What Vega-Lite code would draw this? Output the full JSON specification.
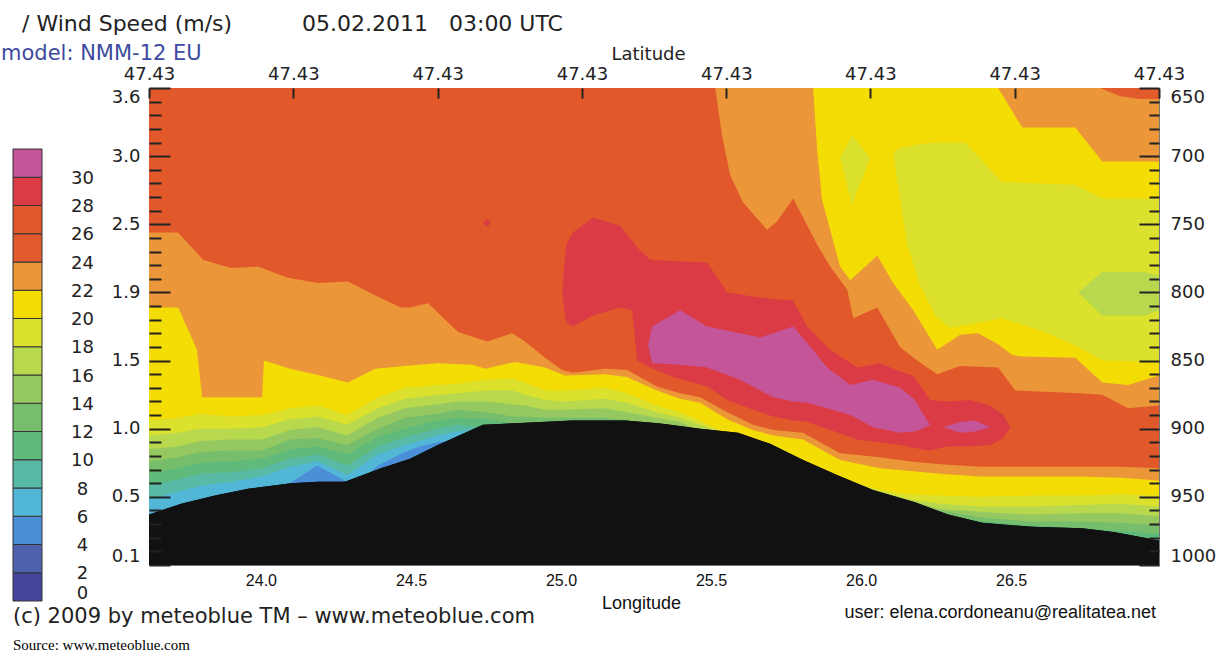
{
  "$schema": "https://vega.github.io/schema/vega-lite/v6.json",
  "background": "white",
  "padding": {"left": 1, "top": 12, "right": 0, "bottom": 0},
  "autosize": {"type": "pad"},
  "title": {
    "text": "\u200b\u00a0\u00a0\u00a0/ Wind Speed (m/s)\u00a0\u00a0\u00a0\u00a0\u00a0\u00a0\u00a0\u00a0\u00a0\u00a005.02.2011\u00a0\u00a0\u00a003:00 UTC",
    "subtitle": "model: NMM-12 EU",
    "anchor": "start",
    "frame": "group",
    "dx": -12,
    "font": "DejaVu Sans",
    "fontSize": 22,
    "fontWeight": "normal",
    "color": "#222222",
    "subtitleFont": "DejaVu Sans",
    "subtitleFontSize": 21,
    "subtitleColor": "#3d4aa0",
    "subtitlePadding": 7,
    "offset": -20
  },
  "config": {
    "view": {"stroke": "#777777", "strokeWidth": 1},
    "axis": {"grid": false, "labelOverlap": false},
    "font": "DejaVu Sans"
  },
  "datasets": {
    "bar": [
      {"lo": 0, "hi": 2}, {"lo": 2, "hi": 4}, {"lo": 4, "hi": 6}, {"lo": 6, "hi": 8},
      {"lo": 8, "hi": 10}, {"lo": 10, "hi": 12}, {"lo": 12, "hi": 14}, {"lo": 14, "hi": 16},
      {"lo": 16, "hi": 18}, {"lo": 18, "hi": 20}, {"lo": 20, "hi": 22}, {"lo": 22, "hi": 24},
      {"lo": 24, "hi": 26}, {"lo": 26, "hi": 28}, {"lo": 28, "hi": 30}, {"lo": 30, "hi": 32}
    ],
    "upper": [
      {"r":"a","x":23.627,"t":650,"b":1000,"v":26},{"r":"a","x":26.993,"t":650,"b":1000,"v":26},
      {"r":"b","x":25.514,"t":650,"b":650,"v":22},{"r":"b","x":25.537,"t":650,"b":685,"v":22},
      {"r":"b","x":25.564,"t":650,"b":714,"v":22},{"r":"b","x":25.607,"t":650,"b":734,"v":22},
      {"r":"b","x":25.687,"t":650,"b":754,"v":22},{"r":"b","x":25.720,"t":650,"b":748,"v":22},
      {"r":"b","x":25.774,"t":650,"b":731,"v":22},{"r":"b","x":25.814,"t":650,"b":748,"v":22},
      {"r":"b","x":25.854,"t":650,"b":765,"v":22},{"r":"b","x":25.897,"t":650,"b":781,"v":22},
      {"r":"b","x":25.954,"t":650,"b":798,"v":22},{"r":"b","x":25.974,"t":650,"b":819,"v":22},
      {"r":"b","x":26.054,"t":650,"b":811,"v":22},{"r":"b","x":26.130,"t":650,"b":840,"v":22},
      {"r":"b","x":26.187,"t":650,"b":850,"v":22},{"r":"b","x":26.254,"t":650,"b":860,"v":22},
      {"r":"b","x":26.330,"t":650,"b":854,"v":22},{"r":"b","x":26.457,"t":650,"b":855,"v":22},
      {"r":"b","x":26.514,"t":650,"b":872,"v":22},{"r":"b","x":26.730,"t":650,"b":874,"v":22},
      {"r":"b","x":26.804,"t":650,"b":875,"v":22},{"r":"b","x":26.890,"t":650,"b":885,"v":22},
      {"r":"b","x":26.993,"t":650,"b":883,"v":22},
      {"r":"c","x":25.840,"t":650,"b":650,"v":20},{"r":"c","x":25.854,"t":650,"b":696,"v":20},
      {"r":"c","x":25.870,"t":650,"b":732,"v":20},{"r":"c","x":25.930,"t":650,"b":781,"v":20},
      {"r":"c","x":25.964,"t":650,"b":791,"v":20},{"r":"c","x":26.054,"t":650,"b":773,"v":20},
      {"r":"c","x":26.107,"t":650,"b":793,"v":20},{"r":"c","x":26.174,"t":650,"b":813,"v":20},
      {"r":"c","x":26.254,"t":650,"b":842,"v":20},{"r":"c","x":26.330,"t":650,"b":831,"v":20},
      {"r":"c","x":26.390,"t":650,"b":830,"v":20},{"r":"c","x":26.457,"t":650,"b":838,"v":20},
      {"r":"c","x":26.504,"t":667,"b":846,"v":20},{"r":"c","x":26.537,"t":679,"b":847,"v":20},
      {"r":"c","x":26.714,"t":679,"b":848,"v":20},{"r":"c","x":26.804,"t":704,"b":866,"v":20},
      {"r":"c","x":26.890,"t":704,"b":868,"v":20},{"r":"c","x":26.993,"t":704,"b":861,"v":20},
      {"r":"d","x":26.107,"t":697,"b":697,"v":18},{"r":"d","x":26.130,"t":694,"b":732,"v":18},
      {"r":"d","x":26.154,"t":693,"b":765,"v":18},{"r":"d","x":26.197,"t":691,"b":795,"v":18},
      {"r":"d","x":26.247,"t":690,"b":817,"v":18},{"r":"d","x":26.297,"t":690,"b":826,"v":18},
      {"r":"d","x":26.347,"t":690,"b":824,"v":18},{"r":"d","x":26.470,"t":719,"b":819,"v":18},
      {"r":"d","x":26.597,"t":720,"b":828,"v":18},{"r":"d","x":26.714,"t":721,"b":839,"v":18},
      {"r":"d","x":26.804,"t":731,"b":850,"v":18},{"r":"d","x":26.993,"t":731,"b":851,"v":18},
      {"r":"e","x":25.930,"t":701,"b":701,"v":18},{"r":"e","x":25.970,"t":685,"b":736,"v":18},
      {"r":"e","x":26.030,"t":701,"b":701,"v":18},
      {"r":"f","x":26.724,"t":800,"b":800,"v":16},{"r":"f","x":26.804,"t":785,"b":817,"v":16},
      {"r":"f","x":26.947,"t":785,"b":817,"v":16},{"r":"f","x":26.993,"t":788,"b":813,"v":16},
      {"r":"g","x":26.797,"t":650,"b":650,"v":24},{"r":"g","x":26.864,"t":650,"b":656,"v":24},
      {"r":"g","x":26.930,"t":650,"b":658,"v":24},{"r":"g","x":26.993,"t":650,"b":658,"v":24},
      {"r":"h","x":24.740,"t":749,"b":749,"v":28},{"r":"h","x":24.754,"t":746,"b":752,"v":28},
      {"r":"h","x":24.767,"t":749,"b":749,"v":28},
      {"r":"i","x":25.004,"t":800,"b":800,"v":28},{"r":"i","x":25.017,"t":765,"b":822,"v":28},
      {"r":"i","x":25.040,"t":756,"b":825,"v":28},{"r":"i","x":25.107,"t":745,"b":817,"v":28},
      {"r":"i","x":25.197,"t":751,"b":811,"v":28},{"r":"i","x":25.237,"t":762,"b":813,"v":28},
      {"r":"i","x":25.254,"t":767,"b":850,"v":28},{"r":"i","x":25.297,"t":776,"b":855,"v":28},
      {"r":"i","x":25.374,"t":777,"b":862,"v":28},{"r":"i","x":25.487,"t":778,"b":869,"v":28},
      {"r":"i","x":25.554,"t":800,"b":879,"v":28},{"r":"i","x":25.640,"t":803,"b":886,"v":28},
      {"r":"i","x":25.707,"t":805,"b":891,"v":28},{"r":"i","x":25.774,"t":806,"b":894,"v":28},
      {"r":"i","x":25.820,"t":825,"b":895,"v":28},{"r":"i","x":25.897,"t":842,"b":901,"v":28},
      {"r":"i","x":25.987,"t":855,"b":908,"v":28},{"r":"i","x":26.064,"t":852,"b":910,"v":28},
      {"r":"i","x":26.130,"t":858,"b":912,"v":28},{"r":"i","x":26.174,"t":861,"b":914,"v":28},
      {"r":"i","x":26.230,"t":879,"b":916,"v":28},{"r":"i","x":26.287,"t":880,"b":913,"v":28},
      {"r":"i","x":26.364,"t":879,"b":913,"v":28},{"r":"i","x":26.430,"t":883,"b":912,"v":28},
      {"r":"i","x":26.474,"t":890,"b":907,"v":28},{"r":"i","x":26.497,"t":899,"b":899,"v":28},
      {"r":"j","x":25.290,"t":839,"b":839,"v":30},{"r":"j","x":25.304,"t":825,"b":852,"v":30},
      {"r":"j","x":25.397,"t":813,"b":853,"v":30},{"r":"j","x":25.487,"t":825,"b":855,"v":30},
      {"r":"j","x":25.597,"t":830,"b":864,"v":30},{"r":"j","x":25.664,"t":833,"b":872,"v":30},
      {"r":"j","x":25.707,"t":830,"b":877,"v":30},{"r":"j","x":25.774,"t":825,"b":880,"v":30},
      {"r":"j","x":25.820,"t":837,"b":881,"v":30},{"r":"j","x":25.887,"t":855,"b":885,"v":30},
      {"r":"j","x":25.964,"t":868,"b":890,"v":30},{"r":"j","x":26.040,"t":864,"b":899,"v":30},
      {"r":"j","x":26.130,"t":870,"b":903,"v":30},{"r":"j","x":26.180,"t":879,"b":902,"v":30},
      {"r":"j","x":26.214,"t":892,"b":899,"v":30},{"r":"j","x":26.230,"t":897,"b":897,"v":30},
      {"r":"k","x":26.274,"t":899,"b":899,"v":30},{"r":"k","x":26.330,"t":895,"b":903,"v":30},
      {"r":"k","x":26.380,"t":894,"b":902,"v":30},{"r":"k","x":26.430,"t":899,"b":899,"v":30}
    ],
    "lower": [
      {"r":"l","x":23.627,"p":756,"v":22},{"r":"l","x":23.724,"p":756,"v":22},{"r":"l","x":23.807,"p":776,"v":22},
      {"r":"l","x":23.900,"p":782,"v":22},{"r":"l","x":23.990,"p":781,"v":22},{"r":"l","x":24.087,"p":789,"v":22},
      {"r":"l","x":24.190,"p":793,"v":22},{"r":"l","x":24.290,"p":792,"v":22},{"r":"l","x":24.380,"p":802,"v":22},
      {"r":"l","x":24.467,"p":811,"v":22},{"r":"l","x":24.497,"p":811,"v":22},{"r":"l","x":24.557,"p":808,"v":22},
      {"r":"l","x":24.657,"p":829,"v":22},{"r":"l","x":24.754,"p":836,"v":22},{"r":"l","x":24.837,"p":830,"v":22},
      {"r":"l","x":24.880,"p":836,"v":22},{"r":"l","x":24.947,"p":848,"v":22},{"r":"l","x":25.004,"p":857,"v":22},
      {"r":"l","x":25.040,"p":859,"v":22},{"r":"l","x":25.147,"p":856,"v":22},{"r":"l","x":25.220,"p":857,"v":22},
      {"r":"l","x":25.320,"p":869,"v":22},{"r":"l","x":25.397,"p":874,"v":22},{"r":"l","x":25.464,"p":877,"v":22},
      {"r":"l","x":25.554,"p":888,"v":22},{"r":"l","x":25.640,"p":897,"v":22},{"r":"l","x":25.707,"p":901,"v":22},
      {"r":"l","x":25.807,"p":903,"v":22},{"r":"l","x":25.930,"p":918,"v":22},{"r":"l","x":26.064,"p":921,"v":22},
      {"r":"l","x":26.164,"p":924,"v":22},{"r":"l","x":26.264,"p":926,"v":22},{"r":"l","x":26.397,"p":928,"v":22},
      {"r":"l","x":26.564,"p":928,"v":22},{"r":"l","x":26.730,"p":928,"v":22},{"r":"l","x":26.864,"p":928,"v":22},
      {"r":"l","x":26.993,"p":929,"v":22},

      {"r":"m","x":23.627,"p":811,"v":20},{"r":"m","x":23.724,"p":811,"v":20},{"r":"m","x":23.787,"p":842,"v":20},
      {"r":"m","x":23.804,"p":877,"v":20},{"r":"m","x":24.004,"p":877,"v":20},{"r":"m","x":24.010,"p":850,"v":20},
      {"r":"m","x":24.097,"p":856,"v":20},{"r":"m","x":24.197,"p":861,"v":20},{"r":"m","x":24.290,"p":866,"v":20},
      {"r":"m","x":24.380,"p":856,"v":20},{"r":"m","x":24.480,"p":854,"v":20},{"r":"m","x":24.590,"p":852,"v":20},
      {"r":"m","x":24.707,"p":853,"v":20},{"r":"m","x":24.747,"p":856,"v":20},{"r":"m","x":24.847,"p":851,"v":20},
      {"r":"m","x":24.947,"p":855,"v":20},{"r":"m","x":25.014,"p":861,"v":20},{"r":"m","x":25.147,"p":860,"v":20},
      {"r":"m","x":25.220,"p":862,"v":20},{"r":"m","x":25.320,"p":872,"v":20},{"r":"m","x":25.397,"p":878,"v":20},
      {"r":"m","x":25.464,"p":881,"v":20},{"r":"m","x":25.554,"p":893,"v":20},{"r":"m","x":25.640,"p":901,"v":20},
      {"r":"m","x":25.707,"p":905,"v":20},{"r":"m","x":25.807,"p":908,"v":20},{"r":"m","x":25.930,"p":923,"v":20},
      {"r":"m","x":26.064,"p":929,"v":20},{"r":"m","x":26.164,"p":931,"v":20},{"r":"m","x":26.264,"p":933,"v":20},
      {"r":"m","x":26.397,"p":935,"v":20},{"r":"m","x":26.564,"p":935,"v":20},{"r":"m","x":26.730,"p":935,"v":20},
      {"r":"m","x":26.864,"p":936,"v":20},{"r":"m","x":26.993,"p":938,"v":20},

      {"r":"n","x":23.627,"p":894,"v":18},{"r":"n","x":23.724,"p":892,"v":18},{"r":"n","x":23.797,"p":889,"v":18},
      {"r":"n","x":23.900,"p":891,"v":18},{"r":"n","x":24.004,"p":890,"v":18},{"r":"n","x":24.097,"p":885,"v":18},
      {"r":"n","x":24.190,"p":883,"v":18},{"r":"n","x":24.287,"p":890,"v":18},{"r":"n","x":24.390,"p":877,"v":18},
      {"r":"n","x":24.480,"p":870,"v":18},{"r":"n","x":24.590,"p":868,"v":18},{"r":"n","x":24.657,"p":867,"v":18},
      {"r":"n","x":24.754,"p":864,"v":18},{"r":"n","x":24.837,"p":863,"v":18},{"r":"n","x":24.880,"p":866,"v":18},
      {"r":"n","x":24.947,"p":872,"v":18},{"r":"n","x":25.014,"p":872,"v":18},{"r":"n","x":25.147,"p":870,"v":18},
      {"r":"n","x":25.220,"p":874,"v":18},{"r":"n","x":25.320,"p":883,"v":18},{"r":"n","x":25.397,"p":888,"v":18},
      {"r":"n","x":25.464,"p":894,"v":18},{"r":"n","x":25.554,"p":904,"v":18},{"r":"n","x":25.640,"p":908,"v":18},
      {"r":"n","x":25.707,"p":913,"v":18},{"r":"n","x":25.807,"p":925,"v":18},{"r":"n","x":25.930,"p":937,"v":18},
      {"r":"n","x":26.064,"p":945,"v":18},{"r":"n","x":26.164,"p":948,"v":18},{"r":"n","x":26.264,"p":949,"v":18},
      {"r":"n","x":26.397,"p":950,"v":18},{"r":"n","x":26.564,"p":949,"v":18},{"r":"n","x":26.730,"p":949,"v":18},
      {"r":"n","x":26.864,"p":948,"v":18},{"r":"n","x":26.993,"p":949,"v":18},

      {"r":"o","x":23.627,"p":905,"v":16},{"r":"o","x":23.724,"p":903,"v":16},{"r":"o","x":23.797,"p":900,"v":16},
      {"r":"o","x":23.900,"p":900,"v":16},{"r":"o","x":24.004,"p":899,"v":16},{"r":"o","x":24.097,"p":893,"v":16},
      {"r":"o","x":24.190,"p":891,"v":16},{"r":"o","x":24.287,"p":897,"v":16},{"r":"o","x":24.390,"p":885,"v":16},
      {"r":"o","x":24.480,"p":878,"v":16},{"r":"o","x":24.590,"p":875,"v":16},{"r":"o","x":24.657,"p":874,"v":16},
      {"r":"o","x":24.754,"p":872,"v":16},{"r":"o","x":24.837,"p":872,"v":16},{"r":"o","x":24.880,"p":875,"v":16},
      {"r":"o","x":24.947,"p":879,"v":16},{"r":"o","x":25.014,"p":880,"v":16},{"r":"o","x":25.147,"p":878,"v":16},
      {"r":"o","x":25.220,"p":881,"v":16},{"r":"o","x":25.320,"p":888,"v":16},{"r":"o","x":25.397,"p":892,"v":16},
      {"r":"o","x":25.464,"p":897,"v":16},{"r":"o","x":25.554,"p":904,"v":16},{"r":"o","x":25.640,"p":908,"v":16},
      {"r":"o","x":25.707,"p":913,"v":16},{"r":"o","x":25.807,"p":925,"v":16},{"r":"o","x":25.930,"p":937,"v":16},
      {"r":"o","x":26.064,"p":946,"v":16},{"r":"o","x":26.164,"p":952,"v":16},{"r":"o","x":26.264,"p":955,"v":16},
      {"r":"o","x":26.397,"p":957,"v":16},{"r":"o","x":26.564,"p":957,"v":16},{"r":"o","x":26.730,"p":956,"v":16},
      {"r":"o","x":26.864,"p":955,"v":16},{"r":"o","x":26.993,"p":957,"v":16},

      {"r":"p","x":23.627,"p":915,"v":14},{"r":"p","x":23.724,"p":913,"v":14},{"r":"p","x":23.797,"p":909,"v":14},
      {"r":"p","x":23.900,"p":908,"v":14},{"r":"p","x":24.004,"p":908,"v":14},{"r":"p","x":24.097,"p":901,"v":14},
      {"r":"p","x":24.190,"p":899,"v":14},{"r":"p","x":24.287,"p":905,"v":14},{"r":"p","x":24.390,"p":892,"v":14},
      {"r":"p","x":24.480,"p":885,"v":14},{"r":"p","x":24.590,"p":882,"v":14},{"r":"p","x":24.657,"p":880,"v":14},
      {"r":"p","x":24.754,"p":880,"v":14},{"r":"p","x":24.837,"p":882,"v":14},{"r":"p","x":24.880,"p":883,"v":14},
      {"r":"p","x":24.947,"p":886,"v":14},{"r":"p","x":25.014,"p":886,"v":14},{"r":"p","x":25.147,"p":885,"v":14},
      {"r":"p","x":25.220,"p":888,"v":14},{"r":"p","x":25.320,"p":892,"v":14},{"r":"p","x":25.397,"p":895,"v":14},
      {"r":"p","x":25.464,"p":902,"v":14},{"r":"p","x":25.554,"p":904,"v":14},{"r":"p","x":25.640,"p":908,"v":14},
      {"r":"p","x":25.707,"p":913,"v":14},{"r":"p","x":25.807,"p":925,"v":14},{"r":"p","x":25.930,"p":937,"v":14},
      {"r":"p","x":26.064,"p":949,"v":14},{"r":"p","x":26.164,"p":953,"v":14},{"r":"p","x":26.264,"p":959,"v":14},
      {"r":"p","x":26.397,"p":961,"v":14},{"r":"p","x":26.564,"p":963,"v":14},{"r":"p","x":26.730,"p":962,"v":14},
      {"r":"p","x":26.864,"p":962,"v":14},{"r":"p","x":26.993,"p":964,"v":14},

      {"r":"q","x":23.627,"p":924,"v":12},{"r":"q","x":23.724,"p":921,"v":12},{"r":"q","x":23.797,"p":917,"v":12},
      {"r":"q","x":23.900,"p":916,"v":12},{"r":"q","x":24.004,"p":916,"v":12},{"r":"q","x":24.097,"p":908,"v":12},
      {"r":"q","x":24.190,"p":907,"v":12},{"r":"q","x":24.287,"p":912,"v":12},{"r":"q","x":24.390,"p":900,"v":12},
      {"r":"q","x":24.480,"p":892,"v":12},{"r":"q","x":24.590,"p":889,"v":12},{"r":"q","x":24.657,"p":886,"v":12},
      {"r":"q","x":24.754,"p":888,"v":12},{"r":"q","x":24.837,"p":891,"v":12},{"r":"q","x":24.880,"p":891,"v":12},
      {"r":"q","x":24.947,"p":892,"v":12},{"r":"q","x":25.014,"p":892,"v":12},{"r":"q","x":25.147,"p":892,"v":12},
      {"r":"q","x":25.220,"p":894,"v":12},{"r":"q","x":25.320,"p":896,"v":12},{"r":"q","x":25.397,"p":898,"v":12},
      {"r":"q","x":25.464,"p":902,"v":12},{"r":"q","x":25.554,"p":904,"v":12},{"r":"q","x":25.640,"p":908,"v":12},
      {"r":"q","x":25.707,"p":913,"v":12},{"r":"q","x":25.807,"p":925,"v":12},{"r":"q","x":25.930,"p":937,"v":12},
      {"r":"q","x":26.064,"p":949,"v":12},{"r":"q","x":26.164,"p":956,"v":12},{"r":"q","x":26.264,"p":960,"v":12},
      {"r":"q","x":26.397,"p":965,"v":12},{"r":"q","x":26.564,"p":968,"v":12},{"r":"q","x":26.730,"p":968,"v":12},
      {"r":"q","x":26.864,"p":969,"v":12},{"r":"q","x":26.993,"p":971,"v":12},

      {"r":"s","x":23.627,"p":933,"v":10},{"r":"s","x":23.724,"p":929,"v":10},{"r":"s","x":23.797,"p":925,"v":10},
      {"r":"s","x":23.900,"p":924,"v":10},{"r":"s","x":24.004,"p":922,"v":10},{"r":"s","x":24.097,"p":915,"v":10},
      {"r":"s","x":24.190,"p":913,"v":10},{"r":"s","x":24.287,"p":919,"v":10},{"r":"s","x":24.390,"p":906,"v":10},
      {"r":"s","x":24.480,"p":900,"v":10},{"r":"s","x":24.590,"p":894,"v":10},{"r":"s","x":24.657,"p":892,"v":10},
      {"r":"s","x":24.754,"p":893,"v":10},{"r":"s","x":24.837,"p":896,"v":10},{"r":"s","x":24.880,"p":897,"v":10},
      {"r":"s","x":24.947,"p":896,"v":10},{"r":"s","x":25.014,"p":894,"v":10},{"r":"s","x":25.147,"p":894,"v":10},
      {"r":"s","x":25.220,"p":894,"v":10},{"r":"s","x":25.320,"p":898,"v":10},{"r":"s","x":25.397,"p":899,"v":10},
      {"r":"s","x":25.464,"p":902,"v":10},{"r":"s","x":25.554,"p":904,"v":10},{"r":"s","x":25.640,"p":908,"v":10},
      {"r":"s","x":25.707,"p":913,"v":10},{"r":"s","x":25.807,"p":925,"v":10},{"r":"s","x":25.930,"p":937,"v":10},
      {"r":"s","x":26.064,"p":949,"v":10},{"r":"s","x":26.164,"p":956,"v":10},{"r":"s","x":26.264,"p":963,"v":10},
      {"r":"s","x":26.397,"p":968,"v":10},{"r":"s","x":26.564,"p":971,"v":10},{"r":"s","x":26.730,"p":973,"v":10},
      {"r":"s","x":26.864,"p":975,"v":10},{"r":"s","x":26.993,"p":977,"v":10},

      {"r":"t","x":23.627,"p":942,"v":8},{"r":"t","x":23.724,"p":937,"v":8},{"r":"t","x":23.797,"p":933,"v":8},
      {"r":"t","x":23.900,"p":932,"v":8},{"r":"t","x":24.004,"p":929,"v":8},{"r":"t","x":24.097,"p":922,"v":8},
      {"r":"t","x":24.190,"p":919,"v":8},{"r":"t","x":24.287,"p":927,"v":8},{"r":"t","x":24.390,"p":913,"v":8},
      {"r":"t","x":24.480,"p":906,"v":8},{"r":"t","x":24.590,"p":900,"v":8},{"r":"t","x":24.657,"p":897,"v":8},
      {"r":"t","x":24.754,"p":900,"v":8},{"r":"t","x":24.837,"p":898,"v":8},{"r":"t","x":24.880,"p":898,"v":8},
      {"r":"t","x":24.947,"p":897,"v":8},{"r":"t","x":25.014,"p":896,"v":8},{"r":"t","x":25.147,"p":896,"v":8},
      {"r":"t","x":25.220,"p":896,"v":8},{"r":"t","x":25.320,"p":898,"v":8},{"r":"t","x":25.397,"p":899,"v":8},
      {"r":"t","x":25.464,"p":902,"v":8},{"r":"t","x":25.554,"p":904,"v":8},{"r":"t","x":25.640,"p":908,"v":8},
      {"r":"t","x":25.707,"p":913,"v":8},{"r":"t","x":25.807,"p":925,"v":8},{"r":"t","x":25.930,"p":937,"v":8},
      {"r":"t","x":26.064,"p":949,"v":8},{"r":"t","x":26.164,"p":956,"v":8},{"r":"t","x":26.264,"p":963,"v":8},
      {"r":"t","x":26.397,"p":971,"v":8},{"r":"t","x":26.564,"p":974,"v":8},{"r":"t","x":26.730,"p":975,"v":8},
      {"r":"t","x":26.864,"p":978,"v":8},{"r":"t","x":26.993,"p":982,"v":8},

      {"r":"u","x":23.627,"p":952,"v":6},{"r":"u","x":23.724,"p":946,"v":6},{"r":"u","x":23.797,"p":942,"v":6},
      {"r":"u","x":23.900,"p":939,"v":6},{"r":"u","x":24.004,"p":935,"v":6},{"r":"u","x":24.097,"p":928,"v":6},
      {"r":"u","x":24.190,"p":924,"v":6},{"r":"u","x":24.287,"p":934,"v":6},{"r":"u","x":24.390,"p":919,"v":6},
      {"r":"u","x":24.480,"p":912,"v":6},{"r":"u","x":24.590,"p":905,"v":6},{"r":"u","x":24.657,"p":902,"v":6},
      {"r":"u","x":24.754,"p":900,"v":6},{"r":"u","x":24.837,"p":898,"v":6},{"r":"u","x":24.880,"p":898,"v":6},
      {"r":"u","x":24.947,"p":897,"v":6},{"r":"u","x":25.014,"p":896,"v":6},{"r":"u","x":25.147,"p":896,"v":6},
      {"r":"u","x":25.220,"p":896,"v":6},{"r":"u","x":25.320,"p":898,"v":6},{"r":"u","x":25.397,"p":899,"v":6},
      {"r":"u","x":25.464,"p":902,"v":6},{"r":"u","x":25.554,"p":904,"v":6},{"r":"u","x":25.640,"p":908,"v":6},
      {"r":"u","x":25.707,"p":913,"v":6},{"r":"u","x":25.807,"p":925,"v":6},{"r":"u","x":25.930,"p":937,"v":6},
      {"r":"u","x":26.064,"p":949,"v":6},{"r":"u","x":26.164,"p":956,"v":6},{"r":"u","x":26.264,"p":963,"v":6},
      {"r":"u","x":26.397,"p":971,"v":6},{"r":"u","x":26.564,"p":974,"v":6},{"r":"u","x":26.730,"p":975,"v":6},
      {"r":"u","x":26.864,"p":978,"v":6},{"r":"u","x":26.993,"p":982,"v":6},

      {"r":"w","x":23.627,"p":966,"v":4},{"r":"w","x":24.004,"p":944,"v":4},{"r":"w","x":24.097,"p":940,"v":4},
      {"r":"w","x":24.187,"p":927,"v":4},{"r":"w","x":24.287,"p":939,"v":4},{"r":"w","x":24.347,"p":935,"v":4},
      {"r":"w","x":24.390,"p":927,"v":4},{"r":"w","x":24.480,"p":917,"v":4},{"r":"w","x":24.530,"p":913,"v":4},
      {"r":"w","x":24.590,"p":910,"v":4},{"r":"w","x":24.657,"p":908,"v":4},{"r":"w","x":24.754,"p":900,"v":4},
      {"r":"w","x":24.837,"p":898,"v":4},{"r":"w","x":24.880,"p":898,"v":4},{"r":"w","x":24.947,"p":897,"v":4},
      {"r":"w","x":25.014,"p":896,"v":4},{"r":"w","x":25.147,"p":896,"v":4},{"r":"w","x":25.220,"p":896,"v":4},
      {"r":"w","x":25.320,"p":898,"v":4},{"r":"w","x":25.397,"p":899,"v":4},{"r":"w","x":25.464,"p":902,"v":4},
      {"r":"w","x":25.554,"p":904,"v":4},{"r":"w","x":25.640,"p":908,"v":4},{"r":"w","x":25.707,"p":913,"v":4},
      {"r":"w","x":25.807,"p":925,"v":4},{"r":"w","x":25.930,"p":937,"v":4},{"r":"w","x":26.064,"p":949,"v":4},
      {"r":"w","x":26.164,"p":956,"v":4},{"r":"w","x":26.264,"p":963,"v":4},{"r":"w","x":26.397,"p":971,"v":4},
      {"r":"w","x":26.564,"p":974,"v":4},{"r":"w","x":26.730,"p":975,"v":4},{"r":"w","x":26.864,"p":978,"v":4},
      {"r":"w","x":26.993,"p":982,"v":4}
    ],
    "terrain": [
      {"x":23.627,"p":963},{"x":23.734,"p":955},{"x":23.847,"p":949},{"x":23.957,"p":944},
      {"x":24.100,"p":940},{"x":24.190,"p":939},{"x":24.280,"p":939},{"x":24.400,"p":929},
      {"x":24.497,"p":922},{"x":24.590,"p":912},{"x":24.740,"p":897},{"x":24.847,"p":896},
      {"x":25.037,"p":894},{"x":25.214,"p":894},{"x":25.324,"p":896},{"x":25.364,"p":897},
      {"x":25.464,"p":900},{"x":25.590,"p":903},{"x":25.697,"p":911},{"x":25.807,"p":923},
      {"x":25.920,"p":934},{"x":26.040,"p":945},{"x":26.180,"p":954},{"x":26.290,"p":963},
      {"x":26.404,"p":969},{"x":26.570,"p":972},{"x":26.737,"p":973},{"x":26.847,"p":976},
      {"x":26.993,"p":982}
    ]
  },
  "bounds": "flush",
  "spacing": 107,
  "hconcat": [
    {
      "width": 29,
      "height": 513,
      "view": {"stroke": null},
      "data": {"name": "bar"},
      "title": {
        "text": "(c) 2009 by meteoblue TM – www.meteoblue.com",
        "subtitle": "Source: www.meteoblue.com",
        "orient": "bottom",
        "anchor": "start",
        "frame": "group",
        "font": "DejaVu Sans",
        "fontSize": 21,
        "fontWeight": "normal",
        "color": "#222222",
        "subtitleFont": "Liberation Serif",
        "subtitleFontSize": 15,
        "subtitleColor": "#000000",
        "subtitlePadding": 11,
        "offset": 4,
        "limit": 1200
      },
      "mark": {"type": "rect", "stroke": "#333333", "strokeWidth": 1},
      "encoding": {
        "y": {
          "field": "lo", "type": "quantitative",
          "scale": {"domain": [0, 36.32], "nice": false, "zero": false},
          "axis": {
            "orient": "right", "values": [0,2,4,6,8,10,12,14,16,18,20,22,24,26,28,30],
            "format": "d", "title": null, "domain": false, "ticks": false, "grid": false,
            "labelAlign": "center", "labelPadding": 40, "labelOffset": 1,
            "labelFlush": true, "labelFlushOffset": 0,
            "labelFont": "DejaVu Sans", "labelFontSize": 18, "labelColor": "#222222"
          }
        },
        "y2": {"field": "hi"},
        "color": {
          "field": "lo", "type": "quantitative", "legend": null,
          "scale": {
            "type": "threshold",
            "domain": [2,4,6,8,10,12,14,16,18,20,22,24,26,28,30],
            "range": ["#46479b","#5061ae","#4b8fd8","#52b7d6","#58b9a5","#5fba7b","#76be6b","#95c861","#b8d84d","#dbe12d","#f4dc05","#eb9638","#e15b2c","#e1582b","#db3b45","#c45598"]
          }
        }
      }
    },
    {
      "width": 1010,
      "height": 477,
      "title": {
        "text": "user: elena.cordoneanu@realitatea.net",
        "orient": "bottom",
        "anchor": "end",
        "frame": "group",
        "dx": -3,
        "font": "Liberation Sans",
        "fontSize": 18,
        "fontWeight": "normal",
        "color": "#111111",
        "offset": -8
      },
      "layer": [
        {
          "data": {"name": "upper"},
          "mark": {"type": "area", "interpolate": "linear"},
          "encoding": {
            "x": {
              "field": "x", "type": "quantitative",
              "scale": {"domain": [23.627, 26.993], "nice": false, "zero": false},
              "axis": {
                "orient": "bottom", "values": [24, 24.5, 25, 25.5, 26, 26.5], "format": ".1f",
                "title": "Longitude", "titleX": 492, "titleAlign": "center",
                "titleFont": "Liberation Sans", "titleFontSize": 18, "titleFontWeight": "normal",
                "titleColor": "#111111", "titlePadding": 6,
                "labelFont": "Liberation Sans", "labelFontSize": 16, "labelColor": "#111111",
                "labelPadding": 7, "labelFlush": false, "ticks": false, "domain": false, "grid": false
              }
            },
            "y": {
              "field": "t", "type": "quantitative", "stack": null,
              "scale": {"domain": [650, 1000], "reverse": true, "nice": false, "zero": false},
              "axis": {
                "orient": "left", "values": [650, 700, 750, 800, 850, 900, 950, 1000], "zindex": 1,
                "labelExpr": "datum.value == 650 ? '3.6' : datum.value == 700 ? '3.0' : datum.value == 750 ? '2.5' : datum.value == 800 ? '1.9' : datum.value == 850 ? '1.5' : datum.value == 900 ? '1.0' : datum.value == 950 ? '0.5' : '0.1'",
                "title": null, "domain": false, "grid": false,
                "tickSize": -21, "tickWidth": 2, "tickColor": "#222222",
                "labelPadding": 30, "labelFlush": true,
                "labelFont": "DejaVu Sans", "labelFontSize": 18, "labelColor": "#222222"
              }
            },
            "y2": {"field": "b"},
            "color": {
              "field": "v", "type": "quantitative", "legend": null,
              "scale": {
                "type": "threshold",
                "domain": [2,4,6,8,10,12,14,16,18,20,22,24,26,28,30],
                "range": ["#46479b","#5061ae","#4b8fd8","#52b7d6","#58b9a5","#5fba7b","#76be6b","#95c861","#b8d84d","#dbe12d","#f4dc05","#eb9638","#e15b2c","#e1582b","#db3b45","#c45598"]
              }
            },
            "detail": {"field": "r", "type": "nominal"}
          }
        },
        {
          "data": {"name": "lower"},
          "mark": {"type": "area", "interpolate": "linear"},
          "encoding": {
            "x": {"field": "x", "type": "quantitative", "scale": {"domain": [23.627, 26.993], "nice": false, "zero": false}, "axis": null},
            "y": {
              "field": "p", "type": "quantitative", "stack": null,
              "scale": {"domain": [650, 1000], "reverse": true, "nice": false, "zero": false},
              "axis": {
                "orient": "left", "zindex": 1,
                "values": [660,670,680,690,710,720,730,740,760,770,780,790,810,820,830,840,860,870,880,890,910,920,930,940,960,970,980,990],
                "labels": false, "title": null, "domain": false, "grid": false,
                "tickSize": -12, "tickWidth": 2, "tickColor": "#222222"
              }
            },
            "y2": {"datum": 1000},
            "color": {
              "field": "v", "type": "quantitative", "legend": null,
              "scale": {
                "type": "threshold",
                "domain": [2,4,6,8,10,12,14,16,18,20,22,24,26,28,30],
                "range": ["#46479b","#5061ae","#4b8fd8","#52b7d6","#58b9a5","#5fba7b","#76be6b","#95c861","#b8d84d","#dbe12d","#f4dc05","#eb9638","#e15b2c","#e1582b","#db3b45","#c45598"]
              }
            },
            "detail": {"field": "r", "type": "nominal"}
          }
        },
        {
          "data": {"name": "terrain"},
          "mark": {"type": "area", "interpolate": "linear", "color": "#111111"},
          "encoding": {
            "x": {
              "field": "x", "type": "quantitative",
              "scale": {"domain": [23.627, 26.993], "nice": false, "zero": false},
              "axis": {
                "orient": "top", "zindex": 1,
                "values": [23.627, 24.108, 24.589, 25.070, 25.551, 26.031, 26.512, 26.993],
                "labelExpr": "'47.43'", "labelFlush": false,
                "title": "Latitude", "titleX": 499, "titleAlign": "center",
                "titleFont": "DejaVu Sans", "titleFontSize": 18, "titleFontWeight": "normal",
                "titleColor": "#222222", "titlePadding": 2,
                "domain": false, "grid": false,
                "tickSize": -10, "tickWidth": 2, "tickColor": "#222222",
                "labelPadding": 15, "labelFont": "DejaVu Sans", "labelFontSize": 18, "labelColor": "#222222"
              }
            },
            "y": {
              "field": "p", "type": "quantitative", "stack": null,
              "scale": {"domain": [650, 1000], "reverse": true, "nice": false, "zero": false},
              "axis": {
                "orient": "right", "values": [650, 700, 750, 800, 850, 900, 950, 1000], "format": "d", "zindex": 1,
                "title": null, "domain": false, "grid": false,
                "tickSize": -20, "tickWidth": 2, "tickColor": "#222222",
                "labelPadding": 31, "labelFlush": true,
                "labelFont": "DejaVu Sans", "labelFontSize": 18, "labelColor": "#222222"
              }
            },
            "y2": {"datum": 1000}
          }
        },
        {
          "data": {"name": "terrain"},
          "mark": {"type": "area", "interpolate": "linear", "color": "#111111"},
          "encoding": {
            "x": {"field": "x", "type": "quantitative", "scale": {"domain": [23.627, 26.993], "nice": false, "zero": false}, "axis": null},
            "y": {
              "field": "p", "type": "quantitative", "stack": null,
              "scale": {"domain": [650, 1000], "reverse": true, "nice": false, "zero": false},
              "axis": {
                "orient": "right", "zindex": 1,
                "values": [660,670,680,690,710,720,730,740,760,770,780,790,810,820,830,840,860,870,880,890,910,920,930,940,960,970,980,990],
                "labels": false, "title": null, "domain": false, "grid": false,
                "tickSize": -10, "tickWidth": 2, "tickColor": "#222222"
              }
            },
            "y2": {"datum": 1000}
          }
        }
      ],
      "resolve": {"axis": {"x": "independent", "y": "independent"}}
    }
  ]
}
